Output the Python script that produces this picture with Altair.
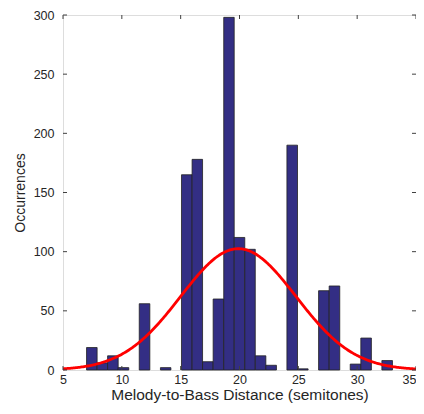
import altair as alt
import pandas as pd

# Histogram bins (left/right edges) and counts
bin_left = [7.00, 7.90, 8.79, 9.69, 10.59, 11.48, 12.38, 13.28, 14.17, 15.07,
            15.97, 16.86, 17.76, 18.66, 19.55, 20.45, 21.34, 22.24, 23.14, 24.03,
            24.93, 25.83, 26.72, 27.62, 28.52, 29.41, 30.31, 31.21, 32.10]
bin_right = [7.90, 8.79, 9.69, 10.59, 11.48, 12.38, 13.28, 14.17, 15.07, 15.97,
             16.86, 17.76, 18.66, 19.55, 20.45, 21.34, 22.24, 23.14, 24.03, 24.93,
             25.83, 26.72, 27.62, 28.52, 29.41, 30.31, 31.21, 32.10, 33.00]
counts = [19, 6, 12, 2, 0, 56, 0, 2, 0, 165,
          178, 7, 60, 298, 112, 102, 12, 4, 0, 190,
          1, 0, 67, 71, 0, 5, 27, 0, 8]

# Fitted normal curve parameters
fit_mean = 19.9
fit_std = 4.9
bin_width = 0.8966

x_ticks = [5, 10, 15, 20, 25, 30, 35]
y_ticks = [0, 50, 100, 150, 200, 250, 300]

W, H = 353, 355
n_total = sum(counts)
scale_k = n_total * bin_width

bars_df = pd.DataFrame({"x": bin_left, "x2": bin_right, "count": counts})

xs = alt.Scale(domain=[5, 35], nice=False, zero=False)
ys = alt.Scale(domain=[0, 300], nice=False)

axis_common = dict(tickSize=0, domain=False, grid=False, labelFontSize=12.5,
                   labelColor="#262626", titleColor="#262626",
                   titleFontWeight="normal", labelFont="Liberation Sans",
                   titleFont="Liberation Sans")

x_enc = alt.X("x:Q", scale=xs,
              axis=alt.Axis(values=x_ticks, title="Melody-to-Bass Distance (semitones)",
                            labelPadding=3, titlePadding=2, titleFontSize=15.5,
                            labelAlign={"expr": "datum.value == 35 ? 'right' : 'center'"},
                            **axis_common))
y_enc = alt.Y("count:Q", scale=ys,
              axis=alt.Axis(values=y_ticks, title="Occurrences",
                            labelPadding=9, titlePadding=6, titleFontSize=14,
                            **axis_common))

bars = alt.Chart(bars_df).transform_filter("datum.count > 0").mark_rect(
    color="#332E84", stroke="#222222", strokeWidth=0.8
).encode(x=x_enc, x2="x2:Q", y=y_enc, y2=alt.datum(0))

curve = alt.Chart(alt.sequence(5, 35.01, 0.1, as_="x")).transform_calculate(
    count=f"{scale_k}*densityNormal(datum.x, {fit_mean}, {fit_std})"
).mark_line(color="#FF0000", strokeWidth=2.8).encode(
    x=alt.X("x:Q", scale=xs), y=alt.Y("count:Q", scale=ys)
)

xt_df = pd.DataFrame({"x": x_ticks})
yt_df = pd.DataFrame({"count": y_ticks})
tick_color = "#404040"
xtick_bot = alt.Chart(xt_df).mark_rule(color=tick_color, strokeWidth=1).encode(
    x=alt.X("x:Q", scale=xs), y=alt.value(H), y2=alt.value(H - 4))
xtick_top = alt.Chart(xt_df).mark_rule(color=tick_color, strokeWidth=1).encode(
    x=alt.X("x:Q", scale=xs), y=alt.value(0), y2=alt.value(4))
ytick_left = alt.Chart(yt_df).mark_rule(color=tick_color, strokeWidth=1).encode(
    y=alt.Y("count:Q", scale=ys), x=alt.value(0), x2=alt.value(4))
ytick_right = alt.Chart(yt_df).mark_rule(color=tick_color, strokeWidth=1).encode(
    y=alt.Y("count:Q", scale=ys), x=alt.value(W), x2=alt.value(W - 4))

chart = alt.layer(bars, curve, xtick_bot, xtick_top, ytick_left, ytick_right).properties(
    width=W, height=H,
    autosize=alt.AutoSizeParams(type="none"),
    padding={"left": 55, "top": 7, "right": 0, "bottom": 36},
).configure_view(stroke="#404040", strokeWidth=1).configure(background="white")

chart.save("out.html", embed_options={"renderer": "svg", "actions": False})
